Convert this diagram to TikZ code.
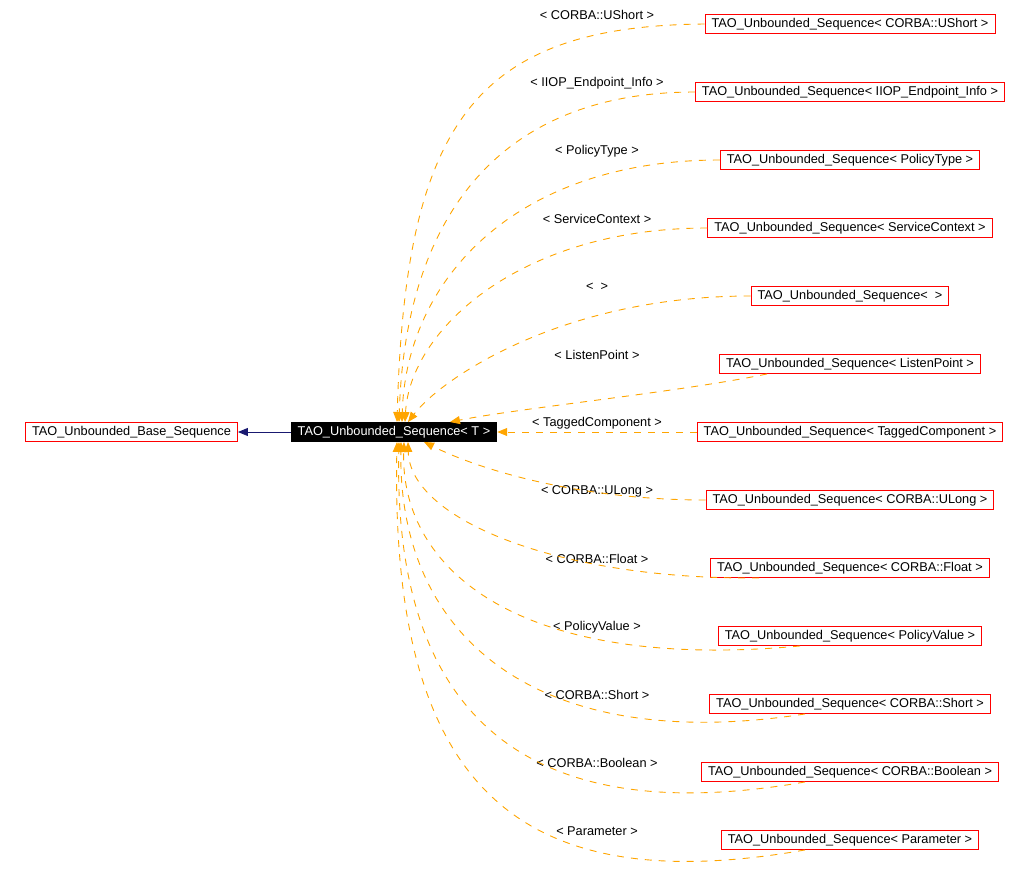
\documentclass[tikz,border=0pt]{standalone}
\usepackage{fontspec}
\setmainfont{Liberation Sans}
\usepackage{xcolor}
\usetikzlibrary{arrows.meta}
\definecolor{depcol}{HTML}{FFA500}
\definecolor{inhcol}{HTML}{191970}
\tikzset{
  cls/.style={draw=red, line width=0.9pt, fill=white, font=\fontsize{12.75}{14}\selectfont,
              inner xsep=6.5pt, inner ysep=2pt, minimum height=19pt},
  cur/.style={cls, draw=black, fill=black, text=white},
  lbl/.style={font=\fontsize{12.75}{14}\selectfont, inner sep=1pt},
  dep/.style={draw=depcol, line width=0.9pt, dash pattern=on 7pt off 7pt,
              -{Triangle[length=10pt, width=8pt]}},
  inh/.style={draw=inhcol, line width=0.9pt, -{Triangle[length=10pt, width=8pt]}},
}
\begin{document}
\begin{tikzpicture}[x=1pt, y=-1pt]
  \useasboundingbox (0,0) rectangle (1030,881);
  \node[cls] (base) at (131.5,432) {TAO\_Unbounded\_Base\_Sequence};
  \node[cur] (seq) at (394,432) {TAO\_Unbounded\_Sequence< T >};
  % instantiations, one row each, with their template argument
  \foreach \n/\t [count=\i from 0] in {ushort/CORBA::UShort, iiop/IIOP\_Endpoint\_Info,
      ptype/PolicyType, sctx/ServiceContext, empty/{}, lpoint/ListenPoint,
      tcomp/TaggedComponent, ulong/CORBA::ULong, float/CORBA::Float, pvalue/PolicyValue,
      short/CORBA::Short, bool/CORBA::Boolean, param/Parameter} {
    \node[cls] (\n) at (850,24+68*\i) {TAO\_Unbounded\_Sequence< \t\ >};
    \node[lbl] (\n-l) at (597,15+68*\i) {< \t\ >};
  }
  \draw[inh] (seq.west) -- (base.east);
  % template edges into the top
  \draw[dep] (ushort.west) .. controls (475,26) and (405,123) .. ([xshift=3pt]seq.north);
  \draw[dep] (iiop.west) .. controls (494,92) and (405,223) .. ([xshift=5pt]seq.north);
  \draw[dep] (ptype.west) .. controls (515,160) and (406,280) .. ([xshift=8pt]seq.north);
  \draw[dep] (sctx.west) .. controls (520,228) and (410,330) .. ([xshift=11pt]seq.north);
  \draw[dep] (empty.west) .. controls (560,296) and (440,380) .. ([xshift=14pt]seq.north);
  \draw[dep] ([xshift=-83pt]lpoint.south) .. controls (680,392) and (520,408) .. ([xshift=56pt]seq.north);
  \draw[dep] (tcomp.west) -- (seq.east);
  % template edges into the bottom
  \draw[dep] (ulong.west) .. controls (580,500) and (480,470) .. ([xshift=30pt]seq.south);
  \draw[dep] ([xshift=-91pt]float.south) .. controls (560,580) and (410,520) .. ([xshift=14pt]seq.south);
  \draw[dep] ([xshift=-50pt]pvalue.south) .. controls (520,672) and (400,570) .. ([xshift=10pt]seq.south);
  \draw[dep] ([xshift=-45pt]short.south) .. controls (540,755) and (398,640) .. ([xshift=7pt]seq.south);
  \draw[dep] ([xshift=-45pt]bool.south) .. controls (530,830) and (393,720) .. ([xshift=5pt]seq.south);
  \draw[dep] ([xshift=-45pt]param.south) .. controls (520,900) and (390,790) .. ([xshift=3pt]seq.south);
\end{tikzpicture}
\end{document}
